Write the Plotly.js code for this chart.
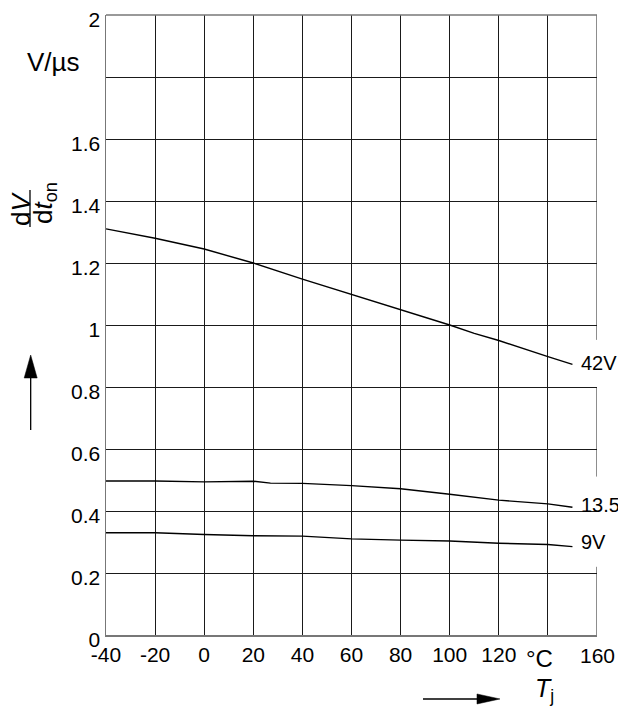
<!DOCTYPE html>
<html>
<head>
<meta charset="utf-8">
<script src="https://cdn.plot.ly/plotly-3.0.1.min.js"></script>
<style>html,body{margin:0;padding:0;background:#fff;}#chart{width:618px;height:713px;}</style>
</head>
<body>
<div id="chart"></div>
<script>
// Junction temperature (°C)
const temps42 = [-40, -20, 0, 20, 40, 60, 80, 100, 110, 120, 140, 150];
const temps135 = [-40, -20, 0, 20, 27, 40, 60, 80, 100, 120, 140, 150];
const temps9 = [-40, -20, 0, 20, 40, 60, 80, 100, 120, 140, 150];
// dV/dt_on (V/µs)
const slew42 = [1.31, 1.28, 1.245, 1.20, 1.148, 1.099, 1.05, 1.0, 0.973, 0.95, 0.898, 0.873];
const slew135 = [0.497, 0.497, 0.494, 0.496, 0.490, 0.489, 0.482, 0.472, 0.454, 0.435, 0.423, 0.412];
const slew9 = [0.330, 0.330, 0.324, 0.320, 0.319, 0.310, 0.306, 0.303, 0.296, 0.292, 0.285];
const seriesNames = ['42V', '13.5', '9V'];
const xTicks = [-40, -20, 0, 20, 40, 60, 80, 100, 120, 140];
const xTickText = ['-40', '-20', '0', '20', '40', '60', '80', '100', '120', ''];
const xLastTick = 160;
const yTicks = [0, 0.2, 0.4, 0.6, 0.8, 1, 1.2, 1.4, 1.6, 1.8, 2];
const yTickText = ['0', '0.2', '0.4', '0.6', '0.8', '1', '1.2', '1.4', '1.6', '', '2'];
// right frame edge is interrupted around the curve labels (value ranges)
const rightEdgeSegments = [[2, 0.952], [0.8, 0.511], [0.22, 0]];

const FONT = 'Liberation Sans, Arial, sans-serif';
const TICK = 21;
const lineStyle = {color: '#000', width: 1.4};
const xs = [temps42, temps135, temps9];
const ys = [slew42, slew135, slew9];
const traces = xs.map((x, i) => ({
  x: x, y: ys[i], type: 'scatter', mode: 'lines', line: lineStyle,
  name: seriesNames[i], showlegend: false, hoverinfo: 'skip'
}));

const labelAnn = seriesNames.map((n, i) => ({
  x: 152.5, y: ys[i][ys[i].length - 1] + [0.005, 0.007, 0.015][i], xref: 'x', yref: 'y',
  text: n, showarrow: false, xanchor: 'left', yanchor: 'middle',
  font: {family: FONT, size: 20, color: '#000'}
}));

const edgeShapes = rightEdgeSegments.map(s => ({
  type: 'line', xref: 'x', yref: 'y', x0: xLastTick, x1: xLastTick, y0: s[0], y1: s[1],
  line: {color: '#1a1a1a', width: 1}
}));

const layout = {
  width: 618, height: 713,
  margin: {l: 106, r: 21, t: 15, b: 78},
  paper_bgcolor: '#fff', plot_bgcolor: '#fff',
  font: {family: FONT, size: TICK, color: '#000'},
  xaxis: {
    range: [-40, xLastTick], tickvals: xTicks, ticktext: xTickText,
    showgrid: true, gridcolor: '#1a1a1a', gridwidth: 1,
    showline: true, linecolor: '#777', linewidth: 1.5,
    ticks: '', zeroline: false, fixedrange: true,
    tickfont: {family: FONT, size: TICK, color: '#000'}
  },
  yaxis: {
    range: [0, 2], tickvals: yTicks, ticktext: yTickText,
    showgrid: true, gridcolor: '#1a1a1a', gridwidth: 1,
    showline: true, linecolor: '#777', linewidth: 1.5,
    ticks: '', zeroline: false, fixedrange: true, ticklabelshift: 5,
    tickfont: {family: FONT, size: TICK, color: '#000'}
  },
  shapes: edgeShapes.concat([
    {type: 'line', xref: 'paper', yref: 'paper', x0: 0, x1: 1, y0: 1, y1: 1, line: {color: '#777', width: 1.5}},
    // y-axis arrow shaft + fraction bar
    {type: 'line', xref: 'paper', yref: 'paper', x0: -0.1534, x1: -0.1534, y0: 0.4145, y1: 0.3306, line: {color: '#000', width: 1.3}},
    {type: 'path', xref: 'paper', yref: 'paper', xsizemode: 'pixel', ysizemode: 'pixel', xanchor: -0.1534, yanchor: 0.4516,
     path: 'M0,0 L-6.5,-23 L6.5,-23 Z', fillcolor: '#000', line: {color: '#000', width: 0.5}},
    {type: 'line', xref: 'paper', yref: 'paper', x0: -0.1548, x1: -0.1548, y0: 0.7177, y1: 0.6581, line: {color: '#000', width: 1.3}},
    // x-axis arrow
    {type: 'line', xref: 'paper', yref: 'paper', x0: 0.6456, x1: 0.7617, y0: -0.1032, y1: -0.1032, line: {color: '#000', width: 1.3}},
    {type: 'path', xref: 'paper', yref: 'paper', xsizemode: 'pixel', ysizemode: 'pixel', xanchor: 0.8024, yanchor: -0.1032,
     path: 'M0,0 L-23,5 L-23,-5 Z', fillcolor: '#000', line: {color: '#000', width: 0.5}}
  ]),
  annotations: labelAnn.concat([
    {x: xLastTick, y: -0.0323, xref: 'x', yref: 'paper', text: String(xLastTick), showarrow: false,
     xanchor: 'center', yanchor: 'middle', font: {family: FONT, size: TICK, color: '#000'}},
    {x: -0.1079, y: 0.9242, xref: 'paper', yref: 'paper', text: 'V/µs', showarrow: false,
     xanchor: 'center', yanchor: 'middle', font: {family: FONT, size: 26, color: '#000'}},
    {x: -0.1731, y: 0.6871, xref: 'paper', yref: 'paper', text: 'd<i>V</i>', showarrow: false, textangle: -90,
     xanchor: 'center', yanchor: 'middle', font: {family: FONT, size: 26, color: '#000'}},
    {x: -0.1242, y: 0.6968, xref: 'paper', yref: 'paper', text: 'd<i>t</i><sub>on</sub>', showarrow: false, textangle: -90,
     xanchor: 'center', yanchor: 'middle', font: {family: FONT, size: 26, color: '#000'}},
    {x: 136.4, y: -0.0371, xref: 'x', yref: 'paper', text: '°C', showarrow: false,
     xanchor: 'center', yanchor: 'middle', font: {family: FONT, size: 24, color: '#000'}},
    {x: 0.8697, y: -0.0887, xref: 'paper', yref: 'paper', text: '<i>T</i><sub>j</sub>', showarrow: false,
     xanchor: 'left', yanchor: 'middle', font: {family: FONT, size: 25, color: '#000'}}
  ])
};

Plotly.newPlot('chart', traces, layout, {staticPlot: true, displayModeBar: false});
</script>
</body>
</html>
